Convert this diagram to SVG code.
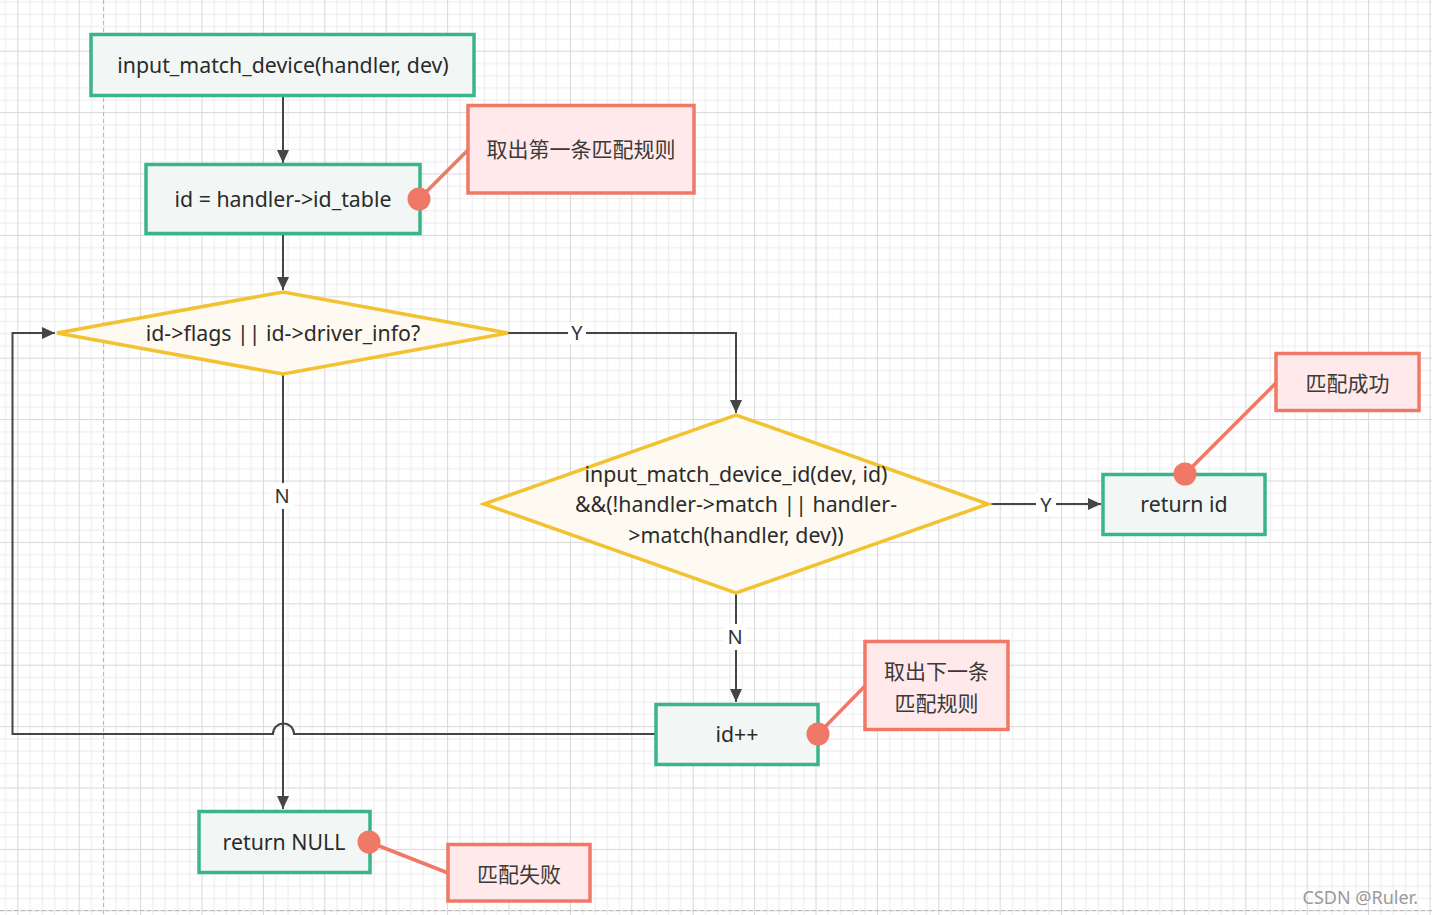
<svg xmlns="http://www.w3.org/2000/svg" width="1432" height="915" viewBox="0 0 1432 915">
<style>
.t{font-family:"Noto Sans","Noto Sans CJK SC",sans-serif;font-size:21.3px;fill:#2b2b2b;text-anchor:middle}
.cn{font-family:"Noto Sans CJK SC","Noto Sans",sans-serif;font-size:21px;fill:#3a3a3a;text-anchor:middle}
.box{fill:#f2f7f5;stroke:#3bb38c;stroke-width:3.5}
.dia{fill:#fefaf1;stroke:#f1c232;stroke-width:3.5}
.note{fill:#ffe9eb;stroke:#f07866;stroke-width:3.5}
.dot{fill:#f07866}
.nl{stroke:#f07866;stroke-width:3.5;fill:none}
.cl{stroke:#454545;stroke-width:2;fill:none}
.lbl{font-family:"Noto Sans",sans-serif;font-size:20px;fill:#333;text-anchor:middle}
</style>
<defs>
<pattern id="grid" patternUnits="userSpaceOnUse" x="17.3" y="50.7" width="61.4" height="61.4">
<rect width="61.4" height="61.4" fill="#ffffff"/>
<g fill="#ececec">
<rect x="12.28" y="0" width="1" height="61.4"/>
<rect x="24.56" y="0" width="1" height="61.4"/>
<rect x="36.84" y="0" width="1" height="61.4"/>
<rect x="49.12" y="0" width="1" height="61.4"/>
<rect x="0" y="12.28" width="61.4" height="1"/>
<rect x="0" y="24.56" width="61.4" height="1"/>
<rect x="0" y="36.84" width="61.4" height="1"/>
<rect x="0" y="49.12" width="61.4" height="1"/>
</g>
<g fill="#d8d8d8">
<rect x="0" y="0" width="1" height="61.4"/>
<rect x="0" y="0" width="61.4" height="1"/>
</g>
</pattern>
<marker id="arr" viewBox="0 0 13 12" refX="13" refY="6" markerWidth="13" markerHeight="12" markerUnits="userSpaceOnUse" orient="auto">
<path d="M0,0 L13,6 L0,12 Z" fill="#454545"/>
</marker>
</defs>
<rect width="1432" height="915" fill="url(#grid)"/>
<line x1="103.5" y1="0" x2="103.5" y2="915" stroke="#b8b8b8" stroke-width="1" stroke-dasharray="4,3"/>
<line x1="0" y1="910.5" x2="1432" y2="910.5" stroke="#b8b8b8" stroke-width="1" stroke-dasharray="4,3"/>

<g id="connectors">
<path class="cl" d="M283,96 V163" marker-end="url(#arr)"/>
<path class="cl" d="M283,234 V290" marker-end="url(#arr)"/>
<path class="cl" d="M508,333 H736 V413" marker-end="url(#arr)"/>
<rect x="568" y="322" width="18" height="22" fill="#ffffff"/>
<text class="lbl" x="577" y="340">Y</text>
<path class="cl" d="M283,374 V809" marker-end="url(#arr)"/>
<rect x="271" y="483" width="22" height="26" fill="#ffffff"/>
<text class="lbl" x="282" y="503">N</text>
<path class="cl" d="M988,504 H1101" marker-end="url(#arr)"/>
<rect x="1036" y="493" width="20" height="22" fill="#ffffff"/>
<text class="lbl" x="1046" y="512">Y</text>
<path class="cl" d="M736,594 V702" marker-end="url(#arr)"/>
<rect x="724" y="624" width="22" height="26" fill="#ffffff"/>
<text class="lbl" x="735" y="644">N</text>
<path class="cl" d="M656,734 H294 A10.5,10.5 0 0 0 273,734 H12.5 V333 H55" marker-end="url(#arr)"/>
</g>

<g id="n1">
<rect class="box" x="91" y="34.5" width="383" height="61"/>
<text class="t" x="283" y="73">input_match_device(handler, dev)</text>
</g>
<g id="n2">
<rect class="box" x="146" y="164.5" width="274" height="69"/>
<text class="t" x="283" y="207">id = handler-&gt;id_table</text>
</g>
<g id="d1">
<polygon class="dia" points="57,333 283,292 508,333 283,374"/>
<text class="t" x="283" y="341">id-&gt;flags || id-&gt;driver_info?</text>
</g>
<g id="d2">
<polygon class="dia" points="484,504 736,415 988,504 736,593"/>
<text class="t" x="736" y="482">input_match_device_id(dev, id)</text>
<text class="t" x="736" y="512">&amp;&amp;(!handler-&gt;match || handler-</text>
<text class="t" x="736" y="543">&gt;match(handler, dev))</text>
</g>
<g id="n3">
<rect class="box" x="1103" y="474.5" width="162" height="60"/>
<text class="t" x="1184" y="512">return id</text>
</g>
<g id="n4">
<rect class="box" x="656" y="704.5" width="162" height="60"/>
<text class="t" x="737" y="742">id++</text>
</g>
<g id="n5">
<rect class="box" x="199" y="811.5" width="171" height="61"/>
<text class="t" x="284" y="850">return NULL</text>
</g>

<g id="note1">
<line class="nl" x1="419" y1="199" x2="468" y2="150"/>
<circle class="dot" cx="419" cy="199" r="11.5"/>
<rect class="note" x="468" y="105.5" width="226" height="87.5"/>
<text class="cn" x="581" y="157">取出第一条匹配规则</text>
</g>
<g id="note2">
<line class="nl" x1="1185" y1="474" x2="1276" y2="383"/>
<circle class="dot" cx="1185" cy="474" r="11.5"/>
<rect class="note" x="1276" y="353.5" width="143" height="57"/>
<text class="cn" x="1347.5" y="391">匹配成功</text>
</g>
<g id="note3">
<line class="nl" x1="818" y1="734" x2="865" y2="686"/>
<circle class="dot" cx="818" cy="734" r="11.5"/>
<rect class="note" x="865" y="641.5" width="143" height="88"/>
<text class="cn" x="936.5" y="679">取出下一条</text>
<text class="cn" x="936.5" y="711">匹配规则</text>
</g>
<g id="note4">
<line class="nl" x1="369" y1="842" x2="448" y2="873"/>
<circle class="dot" cx="369" cy="842" r="11.5"/>
<rect class="note" x="448" y="844.5" width="142" height="56.5"/>
<text class="cn" x="519" y="882">匹配失败</text>
</g>

<text x="1418" y="904" font-family="Noto Sans, sans-serif" font-size="18" fill="#9a9a9a" text-anchor="end">CSDN @Ruler.</text>
</svg>
